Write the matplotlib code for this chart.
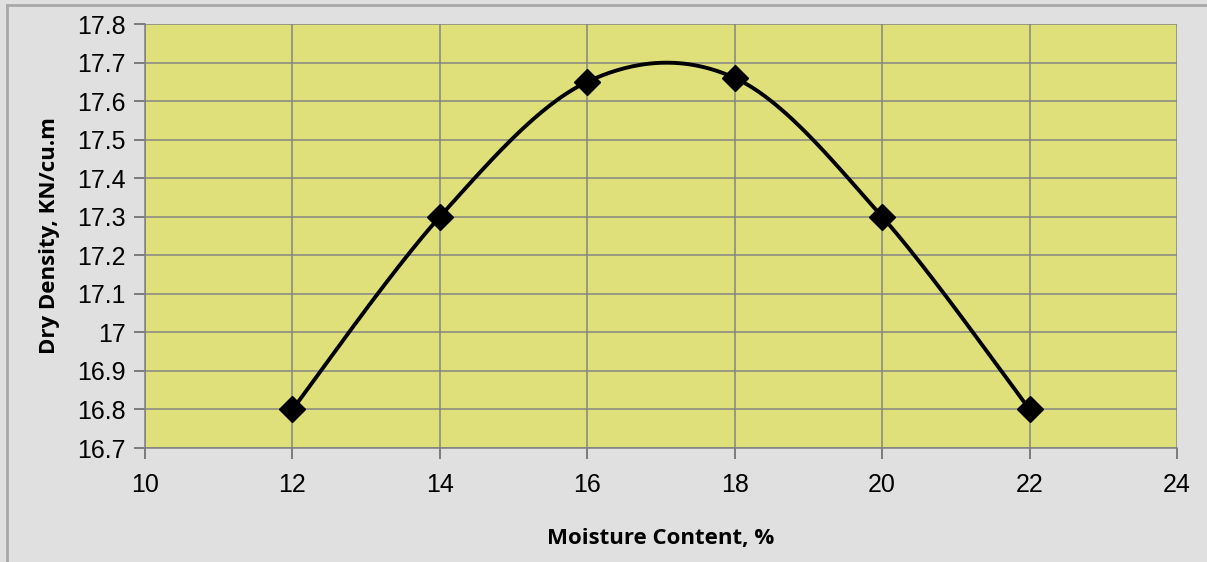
import numpy as np
import matplotlib
matplotlib.use("Agg")
import matplotlib.pyplot as plt
from matplotlib.lines import Line2D

moisture = [12, 14, 16, 18, 20, 22]
density = [16.8, 17.3, 17.65, 17.66, 17.3, 16.8]
x_ticks = [10, 12, 14, 16, 18, 20, 22, 24]
y_ticks = [16.7, 16.8, 16.9, 17.0, 17.1, 17.2, 17.3, 17.4, 17.5, 17.6, 17.7, 17.8]
y_tick_labels = ["16.7", "16.8", "16.9", "17", "17.1", "17.2", "17.3", "17.4", "17.5", "17.6", "17.7", "17.8"]


def excel_smooth(xs, ys, n=60):
    xs = np.asarray(xs, float)
    ys = np.asarray(ys, float)
    px = np.concatenate([[xs[0]], xs, [xs[-1]]])
    py = np.concatenate([[ys[0]], ys, [ys[-1]]])
    ox, oy = [], []
    for i in range(1, len(px) - 2):
        p0 = np.array([px[i - 1], py[i - 1]])
        p1 = np.array([px[i], py[i]])
        p2 = np.array([px[i + 1], py[i + 1]])
        p3 = np.array([px[i + 2], py[i + 2]])
        c1 = p1 + (p2 - p0) / 6.0
        c2 = p2 - (p3 - p1) / 6.0
        t = np.linspace(0, 1, n)[:, None]
        b = ((1 - t) ** 3) * p1 + 3 * ((1 - t) ** 2) * t * c1 + 3 * (1 - t) * t ** 2 * c2 + t ** 3 * p2
        ox.extend(b[:, 0])
        oy.extend(b[:, 1])
    return np.array(ox), np.array(oy)


fig = plt.figure(figsize=(12.07, 5.62), dpi=100)
fig.patch.set_facecolor("#E0E0E0")
ax = fig.add_axes([145 / 1207, 1 - 448 / 562, (1177 - 145) / 1207, (448 - 24) / 562])
ax.set_facecolor("#E0E07A")

sx, sy = excel_smooth(moisture, density)
ax.plot(sx, sy, color="black", lw=2.8, solid_capstyle="round", zorder=3)
ax.plot(moisture, density, linestyle="none", marker="D", markersize=13,
        color="black", zorder=4)

ax.set_xlim(10, 24)
ax.set_ylim(16.7, 17.8)
ax.set_xticks(x_ticks)
ax.set_yticks(y_ticks)
ax.set_yticklabels(y_tick_labels)
ax.grid(True, color="#858585", lw=1.1, zorder=1)
ax.set_axisbelow(True)
for s in ax.spines.values():
    s.set_visible(False)
for side in ("left", "bottom"):
    ax.spines[side].set_visible(True)
    ax.spines[side].set_color("#808080")
    ax.spines[side].set_linewidth(1.1)
ax.tick_params(axis="both", direction="out", length=8, width=1.1, color="#606060",
               labelsize=18, labelcolor="black")
ax.tick_params(axis="x", pad=10)
ax.tick_params(axis="y", pad=6)
for lbl in ax.get_xticklabels() + ax.get_yticklabels():
    lbl.set_fontfamily("Liberation Sans")

ax.set_xlabel("Moisture Content, %", fontsize=16, fontweight="bold",
              family="Open Sans", labelpad=22)
ax.set_ylabel("Dry Density, KN/cu.m", fontsize=16, fontweight="bold",
              family="Open Sans", labelpad=12)

# outer chart border (top and left edges only visible)
fig.add_artist(Line2D([7 / 1207, 7 / 1207], [0, 1 - 5 / 562], transform=fig.transFigure,
                      color="#A8A8A8", lw=2))
fig.add_artist(Line2D([7 / 1207, 1], [1 - 5 / 562, 1 - 5 / 562], transform=fig.transFigure,
                      color="#A8A8A8", lw=2))

fig.savefig("out.png", dpi=100, facecolor=fig.get_facecolor())
